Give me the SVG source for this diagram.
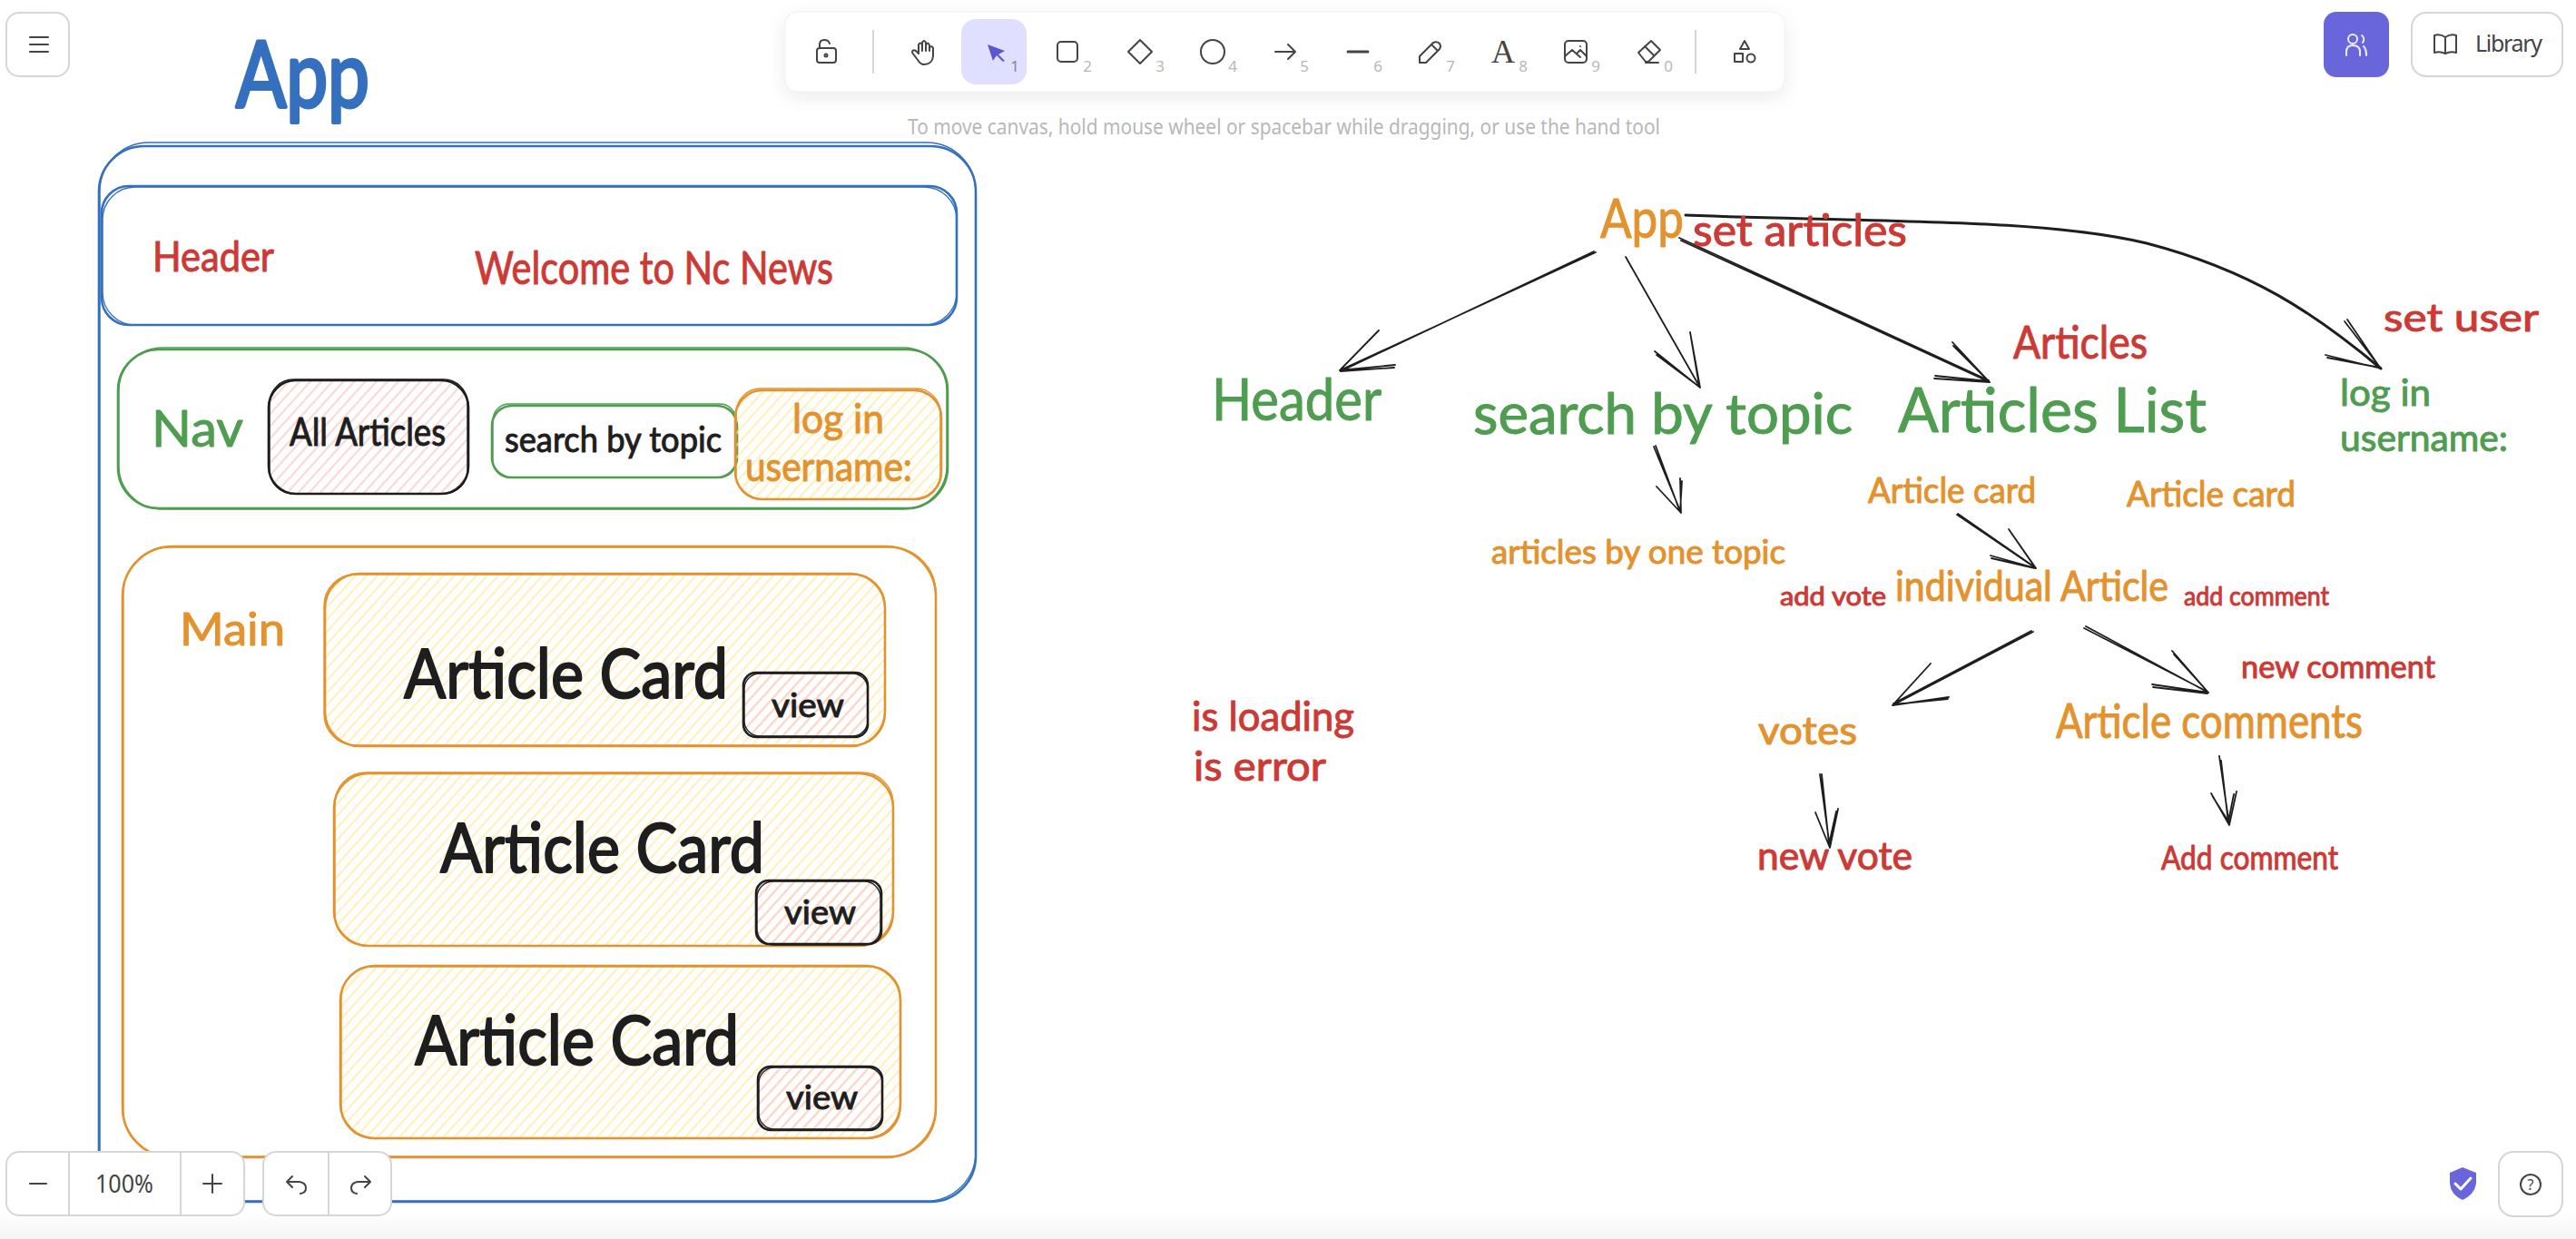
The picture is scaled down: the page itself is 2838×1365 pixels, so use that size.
<svg xmlns="http://www.w3.org/2000/svg" width="2838" height="1365" viewBox="0 0 2838 1365">
<defs>
<pattern id="hy" patternUnits="userSpaceOnUse" width="9" height="9" patternTransform="rotate(-48)"><rect y="3.5" width="9" height="1.8" fill="#fdedb0"/></pattern>
<pattern id="hp" patternUnits="userSpaceOnUse" width="9" height="9" patternTransform="rotate(-48)"><rect y="3.5" width="9" height="1.8" fill="#f9d0d0"/></pattern>
<linearGradient id="bot" x1="0" y1="0" x2="0" y2="1"><stop offset="0" stop-color="#fff"/><stop offset="1" stop-color="#f5f5f5"/></linearGradient>
<filter id="sh" x="-5%" y="-30%" width="110%" height="170%"><feDropShadow dx="0" dy="6" stdDeviation="10" flood-color="#000" flood-opacity="0.08"/></filter>
</defs>
<style>
text{font-family:"Noto Sans","Open Sans",sans-serif}
.r{fill:none;stroke-width:2.6}
.thin{stroke-width:1.3}
.blue{stroke:#3570bf}.green{stroke:#4f9d50}.orange{stroke:#e3922e}.black{stroke:#1e1e1e}
.tb,.tg,.to,.tr,.tk{font-family:Lato,"Noto Sans",sans-serif;stroke-width:1;stroke-linejoin:round}
.tb{fill:#3570bf;stroke:#3570bf}.tg{fill:#4f9d50;stroke:#4f9d50}.to{fill:#e3922e;stroke:#e3922e}.tr{fill:#cc3a36;stroke:#cc3a36}.tk{fill:#1e1e1e;stroke:#1e1e1e}
.big{stroke-width:2}
.hy{fill:url(#hy)}.hp{fill:url(#hp)}
#connectors path{fill:none;stroke:#1e1e1e;stroke-width:1.8;stroke-linecap:round;stroke-linejoin:round}
#connectors path.curve{stroke-width:3}
.ic{fill:none;stroke:#444;stroke-width:2;stroke-linecap:round;stroke-linejoin:round}
.num{font-size:17px;fill:#b8b8b8;text-anchor:middle}
.panel{fill:#fff;stroke:#d6d6d6;stroke-width:2}
.sep{stroke:#d6d6d6;stroke-width:2}
</style>
<rect width="2838" height="1365" fill="#fff"/>

<g id="app-title"><text class="tb" x="260" y="118" font-size="100" textLength="147" lengthAdjust="spacingAndGlyphs" style="stroke-width:4">App</text></g>

<g id="node-app-frame">
<rect class="r blue" x="109" y="161" width="966" height="1163" rx="50"/>
<rect class="r blue thin" x="110" y="157" width="965" height="1166" rx="54"/>
</g>
<g id="node-header">
<rect class="r blue" x="112" y="205" width="942" height="153" rx="30"/>
<rect class="r blue thin" x="113" y="206" width="941" height="152" rx="36"/>
<text class="tr" x="168" y="299" font-size="46" textLength="134" lengthAdjust="spacingAndGlyphs">Header</text>
<text class="tr" x="523" y="313" font-size="50" textLength="395" lengthAdjust="spacingAndGlyphs">Welcome to Nc News</text>
</g>
<g id="node-nav">
<rect class="r green" x="130" y="385" width="914" height="175" rx="45"/>
<rect class="r green thin" x="131" y="383" width="912" height="178" rx="48"/>
<text class="tg" x="167" y="492" font-size="56" textLength="101" lengthAdjust="spacingAndGlyphs">Nav</text>
</g>
<g id="node-all-articles">
<rect class="hp" x="296" y="419" width="220" height="125" rx="30"/>
<rect class="r black" x="296" y="419" width="220" height="125" rx="30"/>
<rect class="r black thin" x="297" y="418" width="218" height="126" rx="26"/>
<text class="tk" x="319" y="491" font-size="42" textLength="172" lengthAdjust="spacingAndGlyphs">All Articles</text>
</g>
<g id="node-search">
<rect class="r green" x="542" y="447" width="270" height="79" rx="22"/>
<rect class="r green thin" x="543" y="445" width="268" height="81" rx="18"/>
<text class="tk" x="556" y="498" font-size="38" textLength="239" lengthAdjust="spacingAndGlyphs">search by topic</text>
</g>
<g id="node-login">
<rect class="hy" x="810" y="430" width="227" height="120" rx="30"/>
<rect class="r orange" x="810" y="430" width="227" height="120" rx="30"/>
<rect class="r orange thin" x="811" y="428" width="225" height="122" rx="27"/>
<text class="to" x="873" y="477" font-size="44" textLength="101" lengthAdjust="spacingAndGlyphs">log in</text>
<text class="to" x="821" y="530" font-size="44" textLength="184" lengthAdjust="spacingAndGlyphs">username:</text>
</g>
<g id="node-main">
<rect class="r orange" x="135" y="602" width="896" height="673" rx="55"/>
<rect class="r orange thin" x="136" y="603" width="895" height="671" rx="50"/>
<text class="to" x="198" y="711" font-size="50" textLength="116" lengthAdjust="spacingAndGlyphs">Main</text>
</g>
<g id="node-card-1">
<rect class="hy" x="358" y="632" width="617" height="190" rx="38"/>
<rect class="r orange" x="358" y="632" width="617" height="190" rx="38"/>
<rect class="r orange thin" x="357" y="633" width="618" height="188" rx="34"/>
<text class="tk big" x="445" y="769" font-size="76" textLength="357" lengthAdjust="spacingAndGlyphs">Article Card</text>
</g>
<g id="node-view-1">
<rect class="hp" x="819" y="741" width="137" height="71" rx="14"/>
<rect class="r black" x="819" y="741" width="137" height="71" rx="14"/>
<rect class="r black thin" x="820" y="742" width="136" height="69" rx="17"/>
<text class="tk" x="850" y="790" font-size="36" textLength="80" lengthAdjust="spacingAndGlyphs">view</text>
</g>
<g id="node-card-2">
<rect class="hy" x="368" y="852" width="616" height="190" rx="38"/>
<rect class="r orange" x="368" y="852" width="616" height="190" rx="38"/>
<rect class="r orange thin" x="369" y="851" width="615" height="191" rx="34"/>
<text class="tk big" x="485" y="961" font-size="76" textLength="357" lengthAdjust="spacingAndGlyphs">Article Card</text>
</g>
<g id="node-view-2">
<rect class="hp" x="833" y="970" width="138" height="70" rx="14"/>
<rect class="r black" x="833" y="970" width="138" height="70" rx="14"/>
<rect class="r black thin" x="834" y="971" width="136" height="70" rx="18"/>
<text class="tk" x="864" y="1018" font-size="36" textLength="79" lengthAdjust="spacingAndGlyphs">view</text>
</g>
<g id="node-card-3">
<rect class="hy" x="375" y="1064" width="617" height="190" rx="38"/>
<rect class="r orange" x="375" y="1064" width="617" height="190" rx="38"/>
<rect class="r orange thin" x="376" y="1065" width="616" height="189" rx="34"/>
<text class="tk big" x="457" y="1173" font-size="76" textLength="357" lengthAdjust="spacingAndGlyphs">Article Card</text>
</g>
<g id="node-view-3">
<rect class="hp" x="835" y="1175" width="137" height="70" rx="14"/>
<rect class="r black" x="835" y="1175" width="137" height="70" rx="14"/>
<rect class="r black thin" x="836" y="1176" width="136" height="68" rx="17"/>
<text class="tk" x="866" y="1222" font-size="36" textLength="79" lengthAdjust="spacingAndGlyphs">view</text>
</g>

<g id="connectors">
<path d="M1758 278L1476 408M1756 277L1477 409M1519 364L1476 408M1537 402L1476 408M1536 405L1477 409"/>
<path d="M1791 283L1873 427M1862 366L1873 427M1863 372L1872 425M1823 387L1873 427M1825 391L1872 426"/>
<path d="M1852 265L2192 421M1850 262L2191 419M2151 377L2192 421M2152 381L2191 420M2131 417L2192 421M2132 414L2191 420"/>
<path class="curve" d="M1857 237C2060 245 2250 240 2365 268C2480 298 2550 345 2623 406"/>
<path d="M2583 354L2623 406M2586 352L2622 405M2562 391L2623 406M2564 394L2622 405"/>
<path d="M1822 492L1852 565M1824 491L1851 564M1851 527L1852 565M1853 530L1851 564M1825 536L1852 565"/>
<path d="M2156 567L2243 626M2157 566L2242 625M2213 583L2243 626M2215 586L2242 625M2193 612L2243 626M2194 615L2242 626"/>
<path d="M2240 696L2085 777M2238 695L2086 775M2127 731L2085 777M2147 768L2085 777M2146 770L2086 776"/>
<path d="M2298 690L2433 763M2296 692L2432 762M2393 717L2433 763M2395 721L2432 762M2371 754L2433 763M2372 757L2432 764"/>
<path d="M2005 853L2016 934M2007 853L2015 930M2025 891L2016 934M2023 894L2015 930M2000 895L2016 934"/>
<path d="M2445 833L2456 909M2447 838L2455 907M2464 872L2456 909M2461 875L2455 905M2436 874L2456 909M2438 878L2455 905"/>
</g>

<g id="tree-app"><text class="to" x="1763" y="262" font-size="60" textLength="92" lengthAdjust="spacingAndGlyphs">App</text></g>
<g id="tree-set-articles"><text class="tr" x="1865" y="271" font-size="48" textLength="236" lengthAdjust="spacingAndGlyphs">set articles</text></g>
<g id="tree-header"><text class="tg" x="1335" y="463" font-size="64" textLength="187" lengthAdjust="spacingAndGlyphs">Header</text></g>
<g id="tree-search"><text class="tg" x="1623" y="478" font-size="62" textLength="418" lengthAdjust="spacingAndGlyphs">search by topic</text></g>
<g id="tree-list"><text class="tg" x="2091" y="476" font-size="68" textLength="340" lengthAdjust="spacingAndGlyphs">Articles List</text></g>
<g id="tree-articles"><text class="tr" x="2218" y="395" font-size="50" textLength="148" lengthAdjust="spacingAndGlyphs">Articles</text></g>
<g id="tree-login">
<text class="tg" x="2578" y="447" font-size="41" textLength="100" lengthAdjust="spacingAndGlyphs">log in</text>
<text class="tg" x="2578" y="497" font-size="41" textLength="185" lengthAdjust="spacingAndGlyphs">username:</text>
</g>
<g id="tree-set-user"><text class="tr" x="2626" y="365" font-size="42" textLength="171" lengthAdjust="spacingAndGlyphs">set user</text></g>
<g id="tree-card-1"><text class="to" x="2058" y="554" font-size="38" textLength="185" lengthAdjust="spacingAndGlyphs">Article card</text></g>
<g id="tree-card-2"><text class="to" x="2343" y="558" font-size="38" textLength="186" lengthAdjust="spacingAndGlyphs">Article card</text></g>
<g id="tree-by-topic"><text class="to" x="1643" y="621" font-size="36" textLength="324" lengthAdjust="spacingAndGlyphs">articles by one topic</text></g>
<g id="tree-add-vote"><text class="tr" x="1961" y="667" font-size="28" textLength="117" lengthAdjust="spacingAndGlyphs">add vote</text></g>
<g id="tree-individual"><text class="to" x="2088" y="662" font-size="46" textLength="301" lengthAdjust="spacingAndGlyphs">individual Article</text></g>
<g id="tree-add-comment"><text class="tr" x="2406" y="667" font-size="28" textLength="160" lengthAdjust="spacingAndGlyphs">add comment</text></g>
<g id="tree-new-comment"><text class="tr" x="2469" y="747" font-size="34" textLength="214" lengthAdjust="spacingAndGlyphs">new comment</text></g>
<g id="tree-comments"><text class="to" x="2265" y="813" font-size="52" textLength="338" lengthAdjust="spacingAndGlyphs">Article comments</text></g>
<g id="tree-votes"><text class="to" x="1937" y="820" font-size="42" textLength="109" lengthAdjust="spacingAndGlyphs">votes</text></g>
<g id="tree-loading">
<text class="tr" x="1313" y="805" font-size="45" textLength="179" lengthAdjust="spacingAndGlyphs">is loading</text>
<text class="tr" x="1315" y="860" font-size="45" textLength="146" lengthAdjust="spacingAndGlyphs">is error</text>
</g>
<g id="tree-new-vote"><text class="tr" x="1936" y="958" font-size="42" textLength="171" lengthAdjust="spacingAndGlyphs">new vote</text></g>
<g id="tree-add-comment-2"><text class="tr" x="2381" y="958" font-size="36" textLength="195" lengthAdjust="spacingAndGlyphs">Add comment</text></g>

<rect y="1335" width="2838" height="30" fill="url(#bot)"/>

<g id="ui-menu">
<rect class="panel" x="7" y="14" width="69" height="70" rx="14"/>
<path class="ic" d="M33 41H53M33 49H53M33 57H53"/>
</g>
<g id="ui-toolbar">
<rect x="865" y="13" width="1101" height="88" rx="14" fill="#fff" stroke="#f0f0f0" filter="url(#sh)"/>
<rect x="1059" y="21" width="72" height="72" rx="16" fill="#e0dfff"/>
<line class="sep" x1="962" y1="33" x2="962" y2="81"/>
<line class="sep" x1="1868" y1="33" x2="1868" y2="81"/>
<path class="ic" d="M903 53H918Q921 53 921 56V66Q921 69 918 69H903Q900 69 900 66V56Q900 53 903 53ZM903 53V49Q903 44 908 44Q913 44 914 48"/>
<circle class="ic" cx="910" cy="61" r="1.5"/>
<path class="ic" d="M1011 66L1005 58Q1005 54 1009 56L1012 59V49Q1014 46 1016 49V47Q1018 43 1020 47V49Q1023 46 1024 50V52Q1027 50 1028 53V62Q1027 71 1018 71Q1014 71 1011 66ZM1016 49V56M1020 47V56M1024 50V56"/>
<path d="M1088 49L1107 56L1100 60L1107 67L1105 68L1098 61L1094 67Z" fill="#5b57d1"/>
<rect class="ic" x="1165" y="46" width="22" height="22" rx="4"/>
<path class="ic" d="M1256 44L1269 57L1256 70L1243 57Z"/>
<circle class="ic" cx="1336" cy="57" r="13"/>
<path class="ic" d="M1405 57H1427M1419 49L1427 57L1419 65"/>
<path class="ic" d="M1485 57H1507" style="stroke-width:3"/>
<path class="ic" d="M1564 69V62L1579 47Q1583 45 1586 48Q1588 51 1586 54L1571 69ZM1577 49L1584 56"/>
<text x="1656" y="69" font-size="36" text-anchor="middle" fill="#444" style="font-family:'Liberation Serif',serif">A</text>
<rect class="ic" x="1724" y="45" width="24" height="24" rx="4"/>
<path class="ic" d="M1724 62L1732 55L1741 63M1738 58L1741 55L1748 62"/>
<circle cx="1741" cy="51" r="1" fill="#444"/>
<path class="ic" d="M1805 58L1819 45L1829 55L1816 68H1813ZM1812 51L1822 61M1813 69H1827"/>
<path class="ic" d="M1922 45L1927 54H1917ZM1911 59H1920V68H1911Z"/>
<circle class="ic" cx="1929" cy="64" r="4.5"/>
<text class="num" x="1118" y="79" style="fill:#888">1</text>
<text class="num" x="1198" y="79">2</text>
<text class="num" x="1278" y="79">3</text>
<text class="num" x="1358" y="79">4</text>
<text class="num" x="1437" y="79">5</text>
<text class="num" x="1518" y="79">6</text>
<text class="num" x="1598" y="79">7</text>
<text class="num" x="1678" y="79">8</text>
<text class="num" x="1758" y="79">9</text>
<text class="num" x="1838" y="79">0</text>
</g>
<g id="ui-hint"><text x="1000" y="148" font-size="24" fill="#b8b8b8" textLength="829" lengthAdjust="spacingAndGlyphs">To move canvas, hold mouse wheel or spacebar while dragging, or use the hand tool</text></g>
<g id="ui-collab">
<rect x="2560" y="13" width="72" height="72" rx="14" fill="#6965db"/>
<path d="M2585 61V57Q2585 50 2592 50Q2600 50 2600 57V61M2604 51Q2607 54 2607 61M2602 39Q2606 42 2603 47" fill="none" stroke="#ecebff" stroke-width="2" stroke-linecap="round"/>
<circle cx="2592" cy="43" r="5" fill="none" stroke="#ecebff" stroke-width="2"/>
</g>
<g id="ui-library">
<rect class="panel" x="2657" y="14" width="166" height="70" rx="16"/>
<path class="ic" d="M2694 59Q2688 56 2682 58V39Q2688 37 2694 41Q2700 37 2706 39V58Q2700 56 2694 59ZM2694 41V59"/>
<text x="2727" y="57" font-size="25" fill="#444" textLength="74" lengthAdjust="spacing">Library</text>
</g>
<g id="ui-zoom">
<rect class="panel" x="7" y="1269" width="262" height="70" rx="14"/>
<line class="sep" x1="76" y1="1269" x2="76" y2="1339"/>
<line class="sep" x1="199" y1="1269" x2="199" y2="1339"/>
<path class="ic" d="M33 1304H51M224 1304H244M234 1294V1314"/>
<text x="137" y="1314" font-size="27" fill="#444" text-anchor="middle" textLength="64" lengthAdjust="spacingAndGlyphs">100%</text>
</g>
<g id="ui-undo">
<rect class="panel" x="290" y="1269" width="141" height="70" rx="14"/>
<line class="sep" x1="362" y1="1269" x2="362" y2="1339"/>
<path class="ic" d="M322 1296L316 1302L322 1308M316 1302H330Q337 1303 337 1309Q337 1314 331 1315"/>
<path class="ic" d="M402 1296L408 1302L402 1308M408 1302H394Q387 1303 387 1309Q387 1314 393 1315"/>
</g>
<g id="ui-shield">
<path d="M2713 1286L2728 1292V1304Q2726 1316 2713 1322Q2700 1316 2699 1304V1292Z" fill="#6965db"/>
<path d="M2705 1304L2711 1310L2722 1298" fill="none" stroke="#fff" stroke-width="3" stroke-linecap="round" stroke-linejoin="round"/>
</g>
<g id="ui-help">
<rect class="panel" x="2753" y="1269" width="70" height="71" rx="16"/>
<circle class="ic" cx="2788" cy="1305" r="11"/>
<text x="2788" y="1311" font-size="16" fill="#444" text-anchor="middle">?</text>
</g>
</svg>
